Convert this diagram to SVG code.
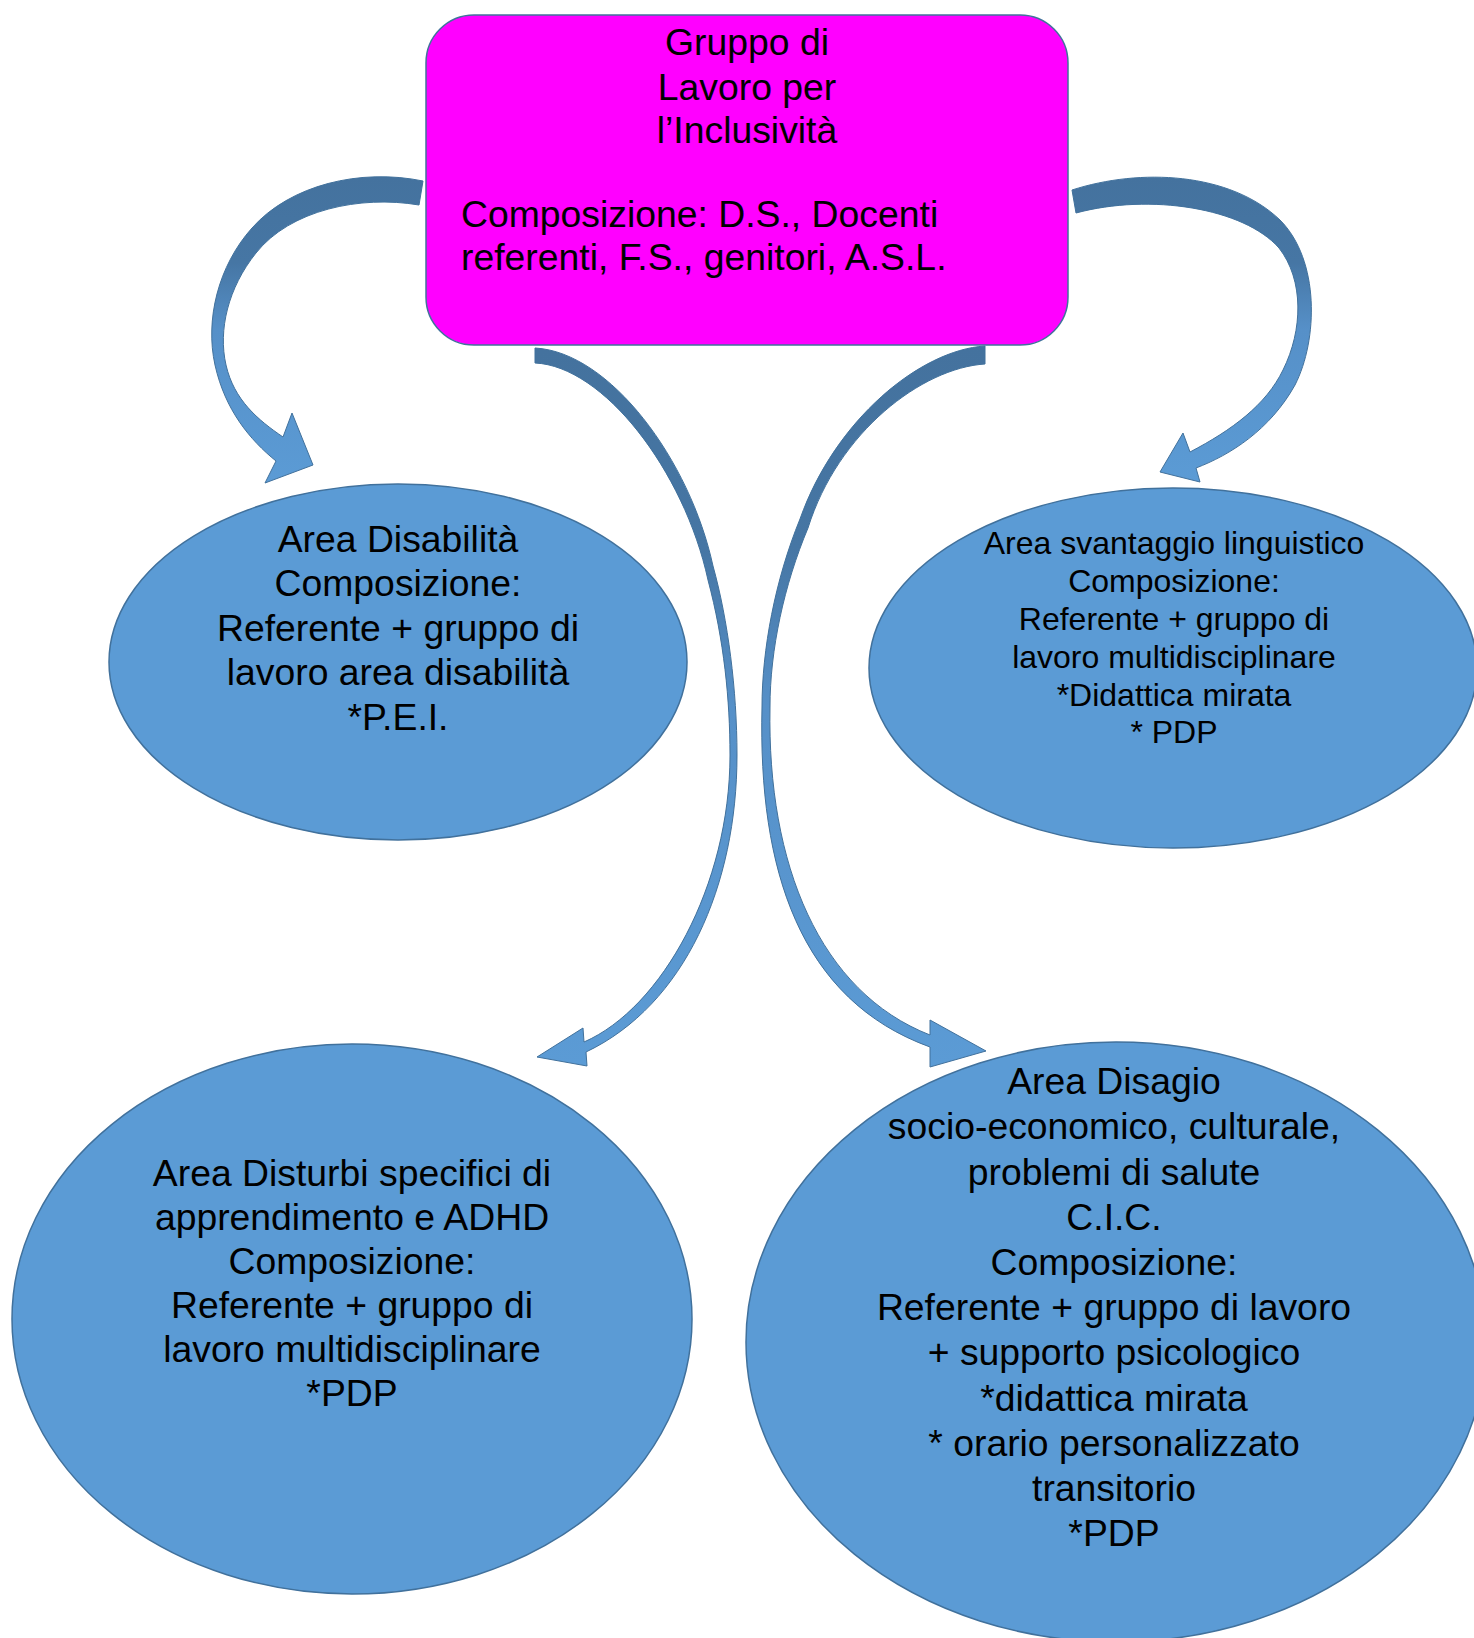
<svg xmlns="http://www.w3.org/2000/svg" width="1474" height="1638" viewBox="0 0 1474 1638">
  <style>
    .t { font-family: "Liberation Sans", Arial, sans-serif; font-size: 37.33px; fill: #000; }
    .s { font-family: "Liberation Sans", Arial, sans-serif; font-size: 32px; fill: #000; }
    .c { text-anchor: middle; }
    .ell { fill: #5b9bd5; stroke: #41719c; stroke-width: 1.5; }
    .arr { fill: url(#ag); stroke: #41719c; stroke-width: 1; }
  </style>
  <defs>
    <linearGradient id="ag" x1="0" y1="0" x2="0" y2="1">
      <stop offset="0" stop-color="#44729e"/>
      <stop offset="0.28" stop-color="#4676a4"/>
      <stop offset="0.5" stop-color="#5690c8"/>
      <stop offset="1" stop-color="#5b9bd5"/>
    </linearGradient>
  </defs>
  <rect width="1474" height="1638" fill="#ffffff"/>

  <g id="connectors">
    <path class="arr" d="M 423,181 C 360,168 290,185 252,228 C 218,266 205,320 215,365 C 225,410 250,440 276,461 L 265,483 L 313,465 L 292,413 L 283,437 C 258,420 234,400 226,365 C 218,330 228,288 256,253 C 290,210 360,195 419,205 Z"/>
    <path class="arr" d="M 1072,190 C 1140,168 1230,172 1280,220 C 1320,260 1318,340 1295,385 C 1270,430 1230,455 1196,468 L 1200,482 L 1160,472 L 1183,433 L 1190,452 C 1232,430 1266,405 1283,370 C 1303,330 1304,280 1279,248 C 1244,208 1150,193 1076,213 Z"/>
    <path class="arr" d="M 535,348 C 610,352 690,460 713,566 C 728,620 737,690 737,755 C 737,885 685,1005 586,1052 L 587,1066 L 537,1057 L 583,1028 L 584,1042 C 662,1008 730,885 730,755 C 730,700 724,640 708,580 C 684,470 603,366 535,363 Z"/>
    <path class="arr" d="M 985,346 C 920,350 835,420 800,519 C 775,580 762,650 762,707 C 758,870 800,1000 930,1047 L 930,1067 L 986,1051 L 930,1020 L 930,1035 C 820,992 767,865 770,707 C 770,650 784,585 808,528 C 838,432 922,368 985,364 Z"/>
  </g>

  <g id="node-gruppo">
    <rect x="426" y="15" width="642" height="330" rx="48" ry="48" fill="#ff00ff" stroke="#41719c" stroke-width="1.5"/>
    <text class="t c" x="747" y="55">Gruppo di</text>
    <text class="t c" x="747" y="100">Lavoro per</text>
    <text class="t c" x="747" y="143">l’Inclusività</text>
    <text class="t" x="461" y="227">Composizione: D.S., Docenti</text>
    <text class="t" x="461" y="270">referenti, F.S., genitori, A.S.L.</text>
  </g>

  <g id="node-disabilita">
    <ellipse class="ell" cx="398" cy="662" rx="289" ry="178"/>
    <text class="t c" x="398" y="552">Area Disabilità</text>
    <text class="t c" x="398" y="596">Composizione:</text>
    <text class="t c" x="398" y="641">Referente + gruppo di</text>
    <text class="t c" x="398" y="685">lavoro area disabilità</text>
    <text class="t c" x="398" y="730">*P.E.I.</text>
  </g>

  <g id="node-svantaggio">
    <ellipse class="ell" cx="1173" cy="668" rx="304" ry="180"/>
    <text class="s c" x="1174" y="554">Area svantaggio linguistico</text>
    <text class="s c" x="1174" y="592">Composizione:</text>
    <text class="s c" x="1174" y="630">Referente + gruppo di</text>
    <text class="s c" x="1174" y="668">lavoro multidisciplinare</text>
    <text class="s c" x="1174" y="706">*Didattica mirata</text>
    <text class="s c" x="1174" y="743">* PDP</text>
  </g>

  <g id="node-dsa">
    <ellipse class="ell" cx="352" cy="1319" rx="340" ry="275"/>
    <text class="t c" x="352" y="1186">Area Disturbi specifici di</text>
    <text class="t c" x="352" y="1230">apprendimento e ADHD</text>
    <text class="t c" x="352" y="1274">Composizione:</text>
    <text class="t c" x="352" y="1318">Referente + gruppo di</text>
    <text class="t c" x="352" y="1362">lavoro multidisciplinare</text>
    <text class="t c" x="352" y="1406">*PDP</text>
  </g>

  <g id="node-disagio">
    <ellipse class="ell" cx="1116" cy="1342" rx="370" ry="300"/>
    <text class="t c" x="1114" y="1094">Area Disagio</text>
    <text class="t c" x="1114" y="1139">socio-economico, culturale,</text>
    <text class="t c" x="1114" y="1185">problemi di salute</text>
    <text class="t c" x="1114" y="1230">C.I.C.</text>
    <text class="t c" x="1114" y="1275">Composizione:</text>
    <text class="t c" x="1114" y="1320">Referente + gruppo di lavoro</text>
    <text class="t c" x="1114" y="1365">+ supporto psicologico</text>
    <text class="t c" x="1114" y="1411">*didattica mirata</text>
    <text class="t c" x="1114" y="1456">* orario personalizzato</text>
    <text class="t c" x="1114" y="1501">transitorio</text>
    <text class="t c" x="1114" y="1546">*PDP</text>
  </g>
</svg>
